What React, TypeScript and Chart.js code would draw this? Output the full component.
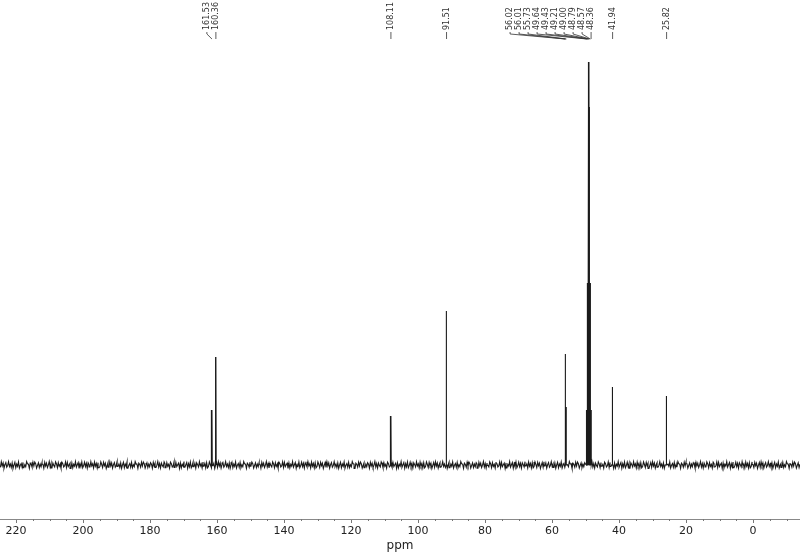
import React, { useEffect, useRef } from 'react';
import { Chart, registerables } from 'chart.js';

Chart.register(...registerables);

// Peak positions (ppm) and heights (arbitrary intensity units)
const peakPpm = [161.53, 160.36, 108.11, 91.51, 56.02, 56.01, 55.73, 49.64, 49.43, 49.21, 49.0, 48.79, 48.57, 48.36, 41.94, 25.82];
const peakHeight = [55, 108, 49, 154, 111, 104, 58, 55, 182, 358, 403, 358, 182, 55, 78, 69];
const peakLabels = ['161.53', '160.36', '108.11', '91.51', '56.02', '56.01', '55.73', '49.64', '49.43', '49.21', '49.00', '48.79', '48.57', '48.36', '41.94', '25.82'];

// Axis ticks (ppm)
const majorTicks = [220, 200, 180, 160, 140, 120, 100, 80, 60, 40, 20, 0];
const minorTicks = [215, 210, 205, 195, 190, 185, 175, 170, 165, 155, 150, 145, 135, 130, 125, 115, 110, 105, 95, 90, 85, 75, 70, 65, 55, 50, 45, 35, 30, 25, 15, 10, 5, -5, -10];

// Hand-read baseline noise pattern (intensity units)
const baselineNoise = [
  0.8, -2.6, 2.1, -0.4, -3.2, 1.3, 3.0, -1.1, 2.8, -2.2, 0.6, 1.9, -3.4, 0.9, 1.1, 3.4, -1.7, 0.3, -2.6, 2.6,
  -2.4, 1.5, -0.2, -3.1, 3.1, -1.3, 0.9, -2.8, 2.7, 0.1, -3.3, 2.2, -2.5, 1.0, -1.4, 3.3, -0.5, -2.1, 2.4, 0.4,
  -3.2, 2.0, -1.0, 3.2, -2.3, 2.5, -0.3, -3.5, 1.8, -0.7, 2.7, -2.6, 0.5, 3.1, -1.5, -2.8, 2.3, -2.9, 1.6, -1.2,
  2.9, -3.0, 1.2, -0.9, 3.3, -2.0, 0.4, 2.2, -3.1, 1.7, -1.6, 2.8, -0.6, -2.7, 3.0, -1.8, 1.4, -3.3, 2.5, 0.2,
  -2.2, 3.4, -1.1, 0.7, -2.9, 2.1, -3.4, 1.9, 0.3, -1.5, 2.6, -2.4, 3.2, -0.8, -2.0, 1.3, 2.9, -3.2, 0.6, -1.3,
  2.4, -2.7, 1.1, 3.1, -1.9, -0.4, 2.0, -3.0, 1.5, -2.1, 3.5, -0.2, -2.5, 1.8, -1.0, 2.7, -3.3, 0.8, 2.3, -1.7,
];

const X_MIN = -14.0;
const X_MAX = 224.8;
const Y_MIN = -54;
const Y_MAX = 465;
const NOISE_STEP = 0.27;
const PEAK_HALF = 0.09;

function buildSpectrum() {
  const pts: { x: number; y: number }[] = [];
  let k = 0;
  for (let x = X_MIN; x <= X_MAX; x += NOISE_STEP, k++) {
    if (peakPpm.some((p) => Math.abs(p - x) < PEAK_HALF * 2)) continue;
    pts.push({ x, y: baselineNoise[k % baselineNoise.length] });
  }
  peakPpm.forEach((p, i) => {
    pts.push({ x: p - PEAK_HALF, y: 0 }, { x: p, y: peakHeight[i] }, { x: p + PEAK_HALF, y: 0 });
  });
  pts.sort((a, b) => a.x - b.x);
  return pts;
}

const peakLabelPlugin = {
  id: 'peakLabels',
  afterDraw(chart: any) {
    const xs = chart.scales.x;
    const ctx = chart.ctx;
    const n = peakPpm.length;
    const px = peakPpm.map((p) => xs.getPixelForValue(p));
    const lx = px.slice();
    const gap = 9;
    for (let i = n - 2; i >= 0; i--) {
      lx[i] = Math.min(px[i], lx[i + 1] - gap);
    }
    ctx.save();
    ctx.fillStyle = '#333';
    ctx.strokeStyle = '#333';
    ctx.lineWidth = 0.8;
    ctx.font = '8px "DejaVu Sans"';
    const textBottom = 30;
    for (let i = 0; i < n; i++) {
      ctx.save();
      ctx.translate(lx[i], textBottom);
      ctx.rotate(-Math.PI / 2);
      ctx.textAlign = 'left';
      ctx.textBaseline = 'middle';
      ctx.fillText(peakLabels[i], 0, 0);
      ctx.restore();
      ctx.beginPath();
      ctx.moveTo(lx[i], 32);
      if (Math.abs(lx[i] - px[i]) < 0.5) {
        ctx.lineTo(px[i], 39);
      } else {
        ctx.lineTo(lx[i], 34);
        ctx.lineTo(px[i], 39);
      }
      ctx.stroke();
    }
    // minor ticks
    const axisY = chart.chartArea.bottom;
    ctx.strokeStyle = '#777';
    ctx.lineWidth = 1;
    minorTicks.forEach((v) => {
      const x = Math.round(xs.getPixelForValue(v)) + 0.5;
      ctx.beginPath();
      ctx.moveTo(x, axisY);
      ctx.lineTo(x, axisY + 2);
      ctx.stroke();
    });
    ctx.restore();
  },
};

export default function App() {
  const ref = useRef<HTMLCanvasElement | null>(null);
  useEffect(() => {
    document.body.style.margin = '0';
    const canvas = ref.current!;
    const chart = new Chart(canvas, {
      type: 'line',
      data: {
        datasets: [
          {
            data: buildSpectrum(),
            borderColor: '#1a1a1a',
            borderWidth: 1.1,
            pointRadius: 0,
            tension: 0,
            fill: false,
          },
        ],
      },
      options: {
        responsive: false,
        animation: false,
        devicePixelRatio: 1,
        layout: { padding: 0 },
        plugins: { legend: { display: false }, tooltip: { enabled: false } },
        scales: {
          x: {
            type: 'linear',
            reverse: true,
            min: X_MIN,
            max: X_MAX,
            border: { display: true, color: '#888', width: 1 },
            grid: { drawOnChartArea: false, drawTicks: true, tickLength: 4, color: '#777' },
            afterBuildTicks: (s: any) => {
              s.ticks = majorTicks.map((v) => ({ value: v }));
            },
            ticks: {
              autoSkip: false,
              maxRotation: 0,
              padding: 2,
              color: '#222',
              font: { family: 'DejaVu Sans', size: 11 },
              callback: (v: any) => String(v),
            },
            title: {
              display: true,
              text: 'ppm',
              color: '#222',
              font: { family: 'DejaVu Sans', size: 12 },
              padding: 0,
            },
            afterFit: (s: any) => {
              s.height = 34;
            },
          },
          y: {
            type: 'linear',
            display: false,
            min: Y_MIN,
            max: Y_MAX,
          },
        },
      },
      plugins: [peakLabelPlugin],
    });
    return () => chart.destroy();
  }, []);
  return (
    <div style={{ position: 'absolute', left: 0, top: 0, width: 800, height: 553, background: '#fff' }}>
      <canvas ref={ref} width={800} height={553} />
    </div>
  );
}
